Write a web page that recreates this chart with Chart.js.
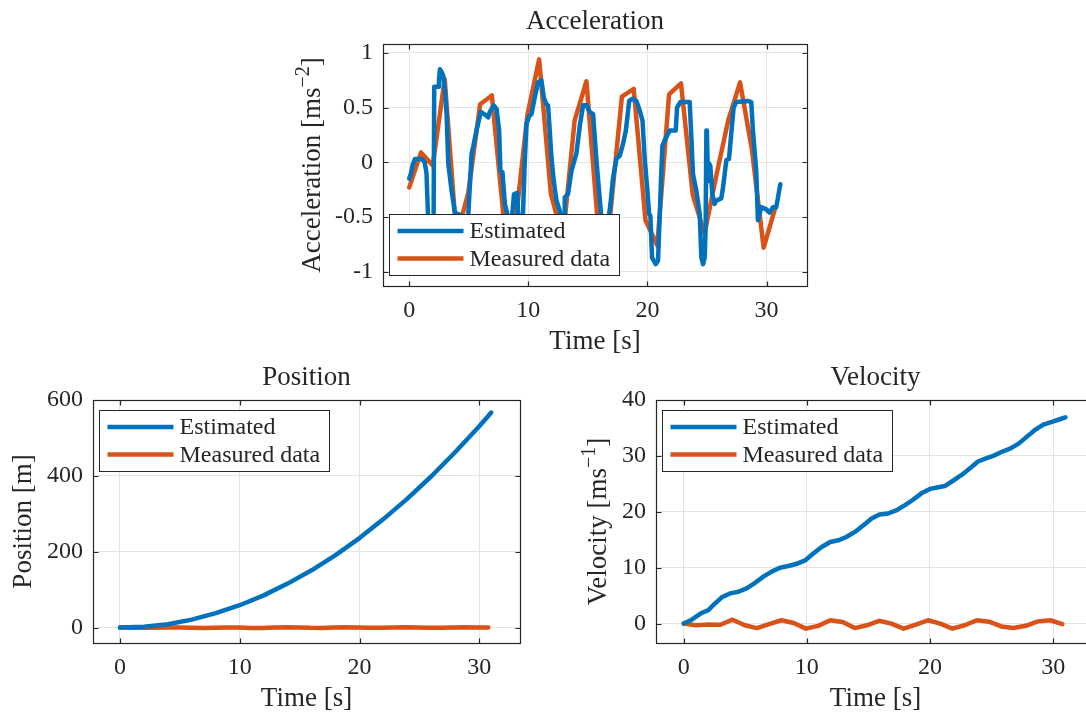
<!DOCTYPE html>
<html>
<head>
<meta charset="utf-8">
<script src="https://cdn.jsdelivr.net/npm/chart.js@4.4.1/dist/chart.umd.min.js"></script>
<style>
  body { margin: 0; background: #fff; overflow: hidden; }
  #fig { position: relative; width: 1086px; height: 715px; overflow: hidden; background: #fff; }
  #fig canvas { position: absolute; }
</style>
</head>
<body>
<div id="fig">
  <canvas id="accChart" width="560" height="360" style="left:280px;top:0"></canvas>
  <canvas id="posChart" width="560" height="355" style="left:0;top:360px"></canvas>
  <canvas id="velChart" width="560" height="355" style="left:560px;top:360px"></canvas>
</div>
<script>
const seriesNames = ['Estimated', 'Measured data']
const timeTicks = [0, 10, 20, 30]
const accTicks = [-1, -0.5, 0, 0.5, 1]
const posTicks = [0, 200, 400, 600]
const velTicks = [0, 10, 20, 30, 40]

// measured samples (about one per second)
const measTime = [0, 0.99, 1.98, 2.98, 3.97, 4.96, 5.95, 6.94, 7.94, 8.93, 9.92, 10.91, 11.9, 12.9, 13.89, 14.88,
  15.87, 16.86, 17.86, 18.85, 19.84, 20.83, 21.82, 22.82, 23.81, 24.8, 25.79, 26.78, 27.78, 28.77, 29.76, 30.75]
const accMeasured = [-0.23, 0.09, -0.03, 0.76, -0.68, -0.28, 0.53, 0.61, -0.52, -0.55, 0.43, 0.94, -0.29, -0.7, 0.38, 0.74,
  -0.6, -0.5, 0.6, 0.67, -0.53, -0.76, 0.62, 0.72, -0.3, -0.65, -0.12, 0.38, 0.73, 0.12, -0.78, -0.41]
const velMeasured = [0, -0.3, -0.15, -0.2, 0.7, -0.3, -0.8, -0.1, 0.6, 0.1, -0.9, -0.4, 0.6, 0.3, -0.8, -0.3,
  0.5, 0, -0.9, -0.2, 0.6, 0, -0.9, -0.3, 0.6, 0.35, -0.5, -0.8, -0.4, 0.4, 0.6, -0.1]
const posMeasured = [0, -0.4, -0.6, -0.5, 0.3, 0.2, -0.6, -0.9, -0.3, 0.4, 0.2, -0.8, -1, 0.1, 0.8, 0.3,
  -0.7, -0.9, 0.2, 0.9, 0.4, -0.5, -0.6, 0.4, 0.9, 0.2, -0.6, -0.7, 0, 0.6, 0.5, 0.4]

// estimated acceleration
const accEstTime = [0, 0.15, 0.3, 0.48, 1.04, 1.3, 1.45, 1.6, 1.8, 1.95, 2.05, 2.1, 2.44, 2.5, 2.58, 2.7, 2.86, 3, 3.14, 3.28,
  3.56, 3.84, 4, 4.3, 4.5, 4.9, 5.1, 5.24, 5.37, 5.65, 6.01, 6.43, 6.63, 6.77, 7.1, 7.33, 7.55, 7.66, 7.83, 8.03,
  8.3, 8.6, 8.8, 9.07, 9.15, 9.4, 9.56, 9.7, 9.85, 10.07, 10.27, 10.54, 10.82, 11.1, 11.3, 11.52, 11.66, 11.8, 11.94, 12.08,
  12.22, 12.36, 12.64, 12.8, 13, 13.06, 13.34, 13.62, 14.04, 14.32, 14.6, 14.88, 15.16, 15.44, 15.72, 15.94, 16.13, 16.4, 16.7, 16.9,
  17.12, 17.4, 17.68, 17.96, 18.19, 18.47, 18.75, 19.08, 19.36, 19.59, 19.78, 19.98, 20.14, 20.25, 20.39, 20.7, 20.89, 21.03, 21.17, 21.26,
  21.45, 21.87, 22.38, 22.49, 22.77, 23.55, 23.69, 23.83, 24.11, 24.39, 24.53, 24.67, 24.81, 24.89, 24.95, 25, 25.09, 25.17, 25.28, 25.45,
  25.64, 25.78, 26.2, 26.35, 26.63, 26.85, 27.04, 27.24, 27.46, 28.44, 28.72, 28.86, 29.14, 29.28, 29.56, 29.98, 30.26, 30.54, 30.82, 31.16]
const accEstimated = [-0.15, -0.1, -0.02, 0.03, 0.03, 0, -0.1, -0.55, -0.65, -0.55, -0.5, 0.69, 0.69, 0.75, 0.85, 0.83, 0.79, 0.65, 0.44, -0.01,
  -0.26, -0.46, -0.47, -0.48, -0.6, -0.6, -0.2, 0.08, 0.14, 0.29, 0.46, 0.43, 0.41, 0.46, 0.52, 0.49, 0.29, -0.08, -0.09, -0.38,
  -0.5, -0.55, -0.29, -0.28, -0.5, -0.55, -0.45, 0, 0.35, 0.42, 0.44, 0.59, 0.73, 0.75, 0.59, 0.53, 0.52, 0.29, 0.05, -0.11,
  -0.24, -0.35, -0.44, -0.55, -0.5, -0.32, -0.29, -0.08, 0.08, 0.33, 0.52, 0.52, 0.46, 0.44, 0.02, -0.26, -0.5, -0.6, -0.55, -0.38,
  -0.14, 0.03, 0.06, 0.17, 0.29, 0.56, 0.58, 0.56, 0.47, 0.38, 0.02, -0.23, -0.47, -0.49, -0.87, -0.93, -0.9, -0.5, -0.08, 0.15,
  0.2, 0.29, 0.29, 0.5, 0.55, 0.55, 0.23, -0.11, -0.26, -0.47, -0.87, -0.93, -0.87, -0.59, 0.29, 0.26, -0.17, -0.01, -0.03, -0.29,
  -0.38, -0.35, -0.33, -0.23, 0.02, 0.03, 0.26, 0.5, 0.55, 0.56, 0.55, 0.29, -0.08, -0.53, -0.41, -0.43, -0.46, -0.41, -0.41, -0.2]

// estimated position
const posEstTime = [0, 2, 4, 6, 8, 10, 12, 14, 16, 18, 20, 22, 24, 26, 28, 30, 31]
const posEstimated = [0, 2, 9, 21, 38, 59, 85, 116, 151, 191, 236, 286, 340, 399, 463, 531, 567]

// estimated velocity
const velEstTime = [0, 0.65, 1.46, 2, 2.4, 3.09, 3.76, 4.44, 5.1, 5.8, 6.47, 7.14, 7.82, 8.5, 9.17, 9.85, 10.5, 11.2, 11.9, 12.56,
  13.2, 13.9, 14.6, 15.26, 15.9, 16.6, 17.3, 17.97, 18.65, 19.3, 20, 20.68, 21.2, 21.9, 22.57, 23.25, 23.9, 24.6, 25.14, 25.8,
  26.5, 27.2, 27.85, 28.5, 29.2, 29.9, 30.6, 31]
const velEstimated = [0, 0.7, 1.9, 2.4, 3.3, 4.7, 5.4, 5.7, 6.3, 7.3, 8.4, 9.3, 10, 10.3, 10.7, 11.3, 12.5, 13.7, 14.6, 14.9,
  15.5, 16.4, 17.6, 18.8, 19.5, 19.7, 20.3, 21.2, 22.2, 23.3, 24.1, 24.4, 24.6, 25.6, 26.6, 27.8, 29, 29.6, 30, 30.7,
  31.3, 32.2, 33.4, 34.6, 35.6, 36.1, 36.6, 36.9]

const blue = '#0072BD'
const orange = '#D95319'
const ink = '#262626'
const gridColor = '#e4e4e4'
const serif = '"Liberation Serif", "Times New Roman", serif'

function pairs(xs, ys) {
  return xs.map((x, i) => ({ x: x, y: ys[i] }))
}

function series(estX, estY, measX, measY) {
  return [
    { label: seriesNames[0], data: pairs(estX, estY), borderColor: blue, backgroundColor: blue },
    { label: seriesNames[1], data: pairs(measX, measY), borderColor: orange, backgroundColor: orange },
  ]
}

// box, inward ticks, titles and the boxed legend, drawn the way MATLAB does it
const axesFrame = {
  id: 'axesFrame',
  afterDraw(chart, args, opts) {
    const { ctx, chartArea: a, scales } = chart
    const L = Math.round(a.left) + 0.5, R = Math.round(a.right) + 0.5
    const T = Math.round(a.top) + 0.5, B = Math.round(a.bottom) + 0.5
    ctx.save()
    ctx.strokeStyle = ink
    ctx.lineWidth = 1.2
    ctx.beginPath()
    scales.x.ticks.forEach(t => {
      const px = Math.round(scales.x.getPixelForValue(t.value)) + 0.5
      ctx.moveTo(px, B); ctx.lineTo(px, B - 5)
      ctx.moveTo(px, T); ctx.lineTo(px, T + 5)
    })
    scales.y.ticks.forEach(t => {
      const py = Math.round(scales.y.getPixelForValue(t.value)) + 0.5
      ctx.moveTo(L, py); ctx.lineTo(L + 5, py)
      ctx.moveTo(R, py); ctx.lineTo(R - 5, py)
    })
    ctx.stroke()
    ctx.strokeRect(L, T, R - L, B - T)

    ctx.fillStyle = ink
    ctx.textBaseline = 'alphabetic'
    ctx.textAlign = 'center'
    ctx.font = '27px ' + serif
    const cx = (a.left + a.right) / 2
    ctx.fillText(opts.title, cx, a.top - 15)
    ctx.fillText('Time [s]', cx, a.bottom + 63)

    // y label, rotated, with an optional superscript unit power
    const [base, sup, tail] = opts.yLabel
    ctx.save()
    ctx.translate(a.left - opts.yLabelGap, (a.top + a.bottom) / 2)
    ctx.rotate(-Math.PI / 2)
    ctx.textAlign = 'left'
    ctx.font = '27px ' + serif
    const wBase = ctx.measureText(base).width
    const wTail = ctx.measureText(tail).width
    ctx.font = '20px ' + serif
    const wSup = ctx.measureText(sup).width
    let x = -(wBase + wSup + wTail) / 2
    ctx.font = '27px ' + serif
    ctx.fillText(base, x, 0)
    x += wBase
    ctx.font = '20px ' + serif
    ctx.fillText(sup, x, -11)
    x += wSup
    ctx.font = '27px ' + serif
    ctx.fillText(tail, x, 0)
    ctx.restore()

    // legend
    const w = 230, h = 61
    const lx = a.left + 6.5
    const ly = opts.legendAt === 'top' ? a.top + 10.5 : a.bottom - 10.5 - h
    ctx.fillStyle = '#fff'
    ctx.fillRect(lx, ly, w, h)
    ctx.lineWidth = 1
    ctx.strokeStyle = ink
    ctx.strokeRect(lx, ly, w, h)
    ctx.font = '24px ' + serif
    ctx.textAlign = 'left'
    ctx.textBaseline = 'middle'
    chart.data.datasets.forEach((ds, i) => {
      const ry = ly + 16.5 + i * 27.5
      ctx.strokeStyle = ds.borderColor
      ctx.lineWidth = 4.5
      ctx.beginPath()
      ctx.moveTo(lx + 8, ry); ctx.lineTo(lx + 74, ry)
      ctx.stroke()
      ctx.fillStyle = ink
      ctx.fillText(ds.label, lx + 80, ry + 1)
    })
    ctx.restore()
  },
}

function makeChart(id, cfg) {
  const tickFont = { family: serif, size: 24 }
  return new Chart(document.getElementById(id), {
    type: 'line',
    data: { datasets: cfg.datasets },
    options: {
      responsive: false,
      animation: false,
      layout: { padding: { left: 0, top: cfg.padTop, right: cfg.padRight, bottom: 0 } },
      elements: {
        line: { borderWidth: 4.5, tension: 0, borderJoinStyle: 'round', borderCapStyle: 'round' },
        point: { radius: 0, hoverRadius: 0 },
      },
      scales: {
        x: {
          type: 'linear',
          min: cfg.xMin,
          max: cfg.xMax,
          afterBuildTicks: s => { s.ticks = timeTicks.map(v => ({ value: v })) },
          afterFit: s => { s.height = 72 + cfg.extraBottom },
          grid: { color: gridColor, drawTicks: false },
          border: { display: false },
          ticks: { font: tickFont, color: ink, padding: 10, autoSkip: false, maxRotation: 0, callback: v => String(v) },
        },
        y: {
          type: 'linear',
          min: cfg.yMin,
          max: cfg.yMax,
          afterBuildTicks: s => { s.ticks = cfg.yTicks.map(v => ({ value: v })) },
          afterFit: s => { s.width = cfg.yWidth },
          grid: { color: gridColor, drawTicks: false },
          border: { display: false },
          ticks: { font: tickFont, color: ink, padding: 10, autoSkip: false, callback: v => String(v) },
        },
      },
      plugins: {
        legend: { display: false },
        tooltip: { enabled: false },
        axesFrame: cfg.frame,
      },
    },
    plugins: [axesFrame],
  })
}

makeChart('accChart', {
  datasets: series(accEstTime, accEstimated, measTime, accMeasured),
  padTop: 44, padRight: 33, yWidth: 103, extraBottom: 2,
  xMin: -2.2, xMax: 33.4, yMin: -1.13, yMax: 1.08, yTicks: accTicks,
  frame: { title: 'Acceleration', yLabel: ['Acceleration [ms', '\u22122', ']'], yLabelGap: 63, legendAt: 'bottom' },
})

makeChart('posChart', {
  datasets: series(posEstTime, posEstimated, measTime, posMeasured),
  padTop: 40, padRight: 40, yWidth: 93, extraBottom: 0,
  xMin: -2.25, xMax: 33.4, yMin: -40.6, yMax: 600, yTicks: posTicks,
  frame: { title: 'Position', yLabel: ['Position [m]', '', ''], yLabelGap: 62, legendAt: 'top' },
})

makeChart('velChart', {
  datasets: series(velEstTime, velEstimated, measTime, velMeasured),
  padTop: 40, padRight: 25, yWidth: 96, extraBottom: 0,
  xMin: -2.25, xMax: 33.4, yMin: -3.47, yMax: 40, yTicks: velTicks,
  frame: { title: 'Velocity', yLabel: ['Velocity [ms', '\u22121', ']'], yLabelGap: 50, legendAt: 'top' },
})
</script>
</body>
</html>
